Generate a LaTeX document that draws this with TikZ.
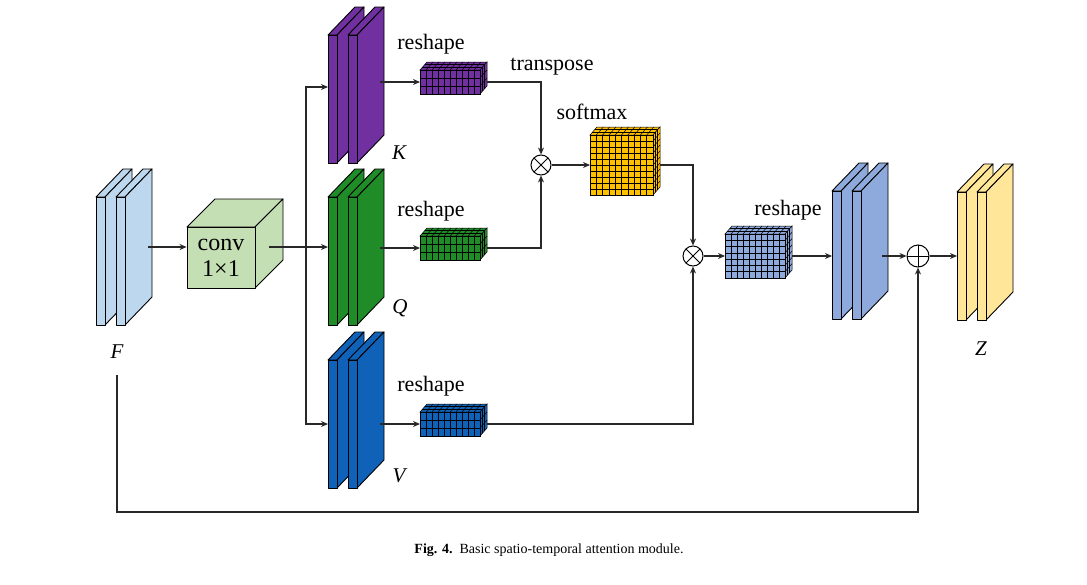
\documentclass[tikz,border=0pt]{standalone}
\usepackage{fontspec}
\setmainfont{Liberation Serif}
\usetikzlibrary{arrows.meta,calc}
\definecolor{fblue}{HTML}{BDD7EE}
\definecolor{kpurple}{HTML}{7030A0}
\definecolor{qgreen}{RGB}{32,140,40}
\definecolor{vblue}{RGB}{16,98,184}
\definecolor{oblue}{HTML}{8EA9DB}
\definecolor{zyellow}{HTML}{FFE699}
\definecolor{convg}{HTML}{C5DFB4}
\definecolor{smyellow}{HTML}{FFC000}
\definecolor{linec}{RGB}{40,40,40}
\tikzset{
  conn/.style={line width=1.2pt, draw=linec},
  arr/.style={conn, -{Stealth[length=7pt,width=6pt]}},
  face/.style={draw=black, line width=0.9pt, line join=round},
  gridl/.style={draw=black, line width=0.5pt},
  lbl/.style={font=\fontsize{22}{24}\selectfont, inner sep=0},
  ital/.style={font=\fontsize{21}{23}\selectfont\itshape, inner sep=0},
  opnode/.style={circle, draw=black, line width=1pt, minimum size=20pt, inner sep=0, fill=white},
  otimesnode/.style={opnode, path picture={
     \draw[line width=1pt] (path picture bounding box.north west) -- (path picture bounding box.south east);
     \draw[line width=1pt] (path picture bounding box.north east) -- (path picture bounding box.south west);}},
  oplusnode/.style={opnode, minimum size=22pt, path picture={
     \draw[line width=1pt] (path picture bounding box.north) -- (path picture bounding box.south);
     \draw[line width=1pt] (path picture bounding box.east) -- (path picture bounding box.west);}},
}
% two thin slabs: name, x of first front face, y top, colour
\newcommand{\slabpair}[4]{%
  \foreach \s/\o in {a/0,b/20}{%
    \pgfmathsetmacro\slx{#2+\o}%
    \filldraw[face, fill=#4] (\slx,#3) -- ++(27,-28) -- ++(9,0) -- ++(-27,28) -- cycle;
    \filldraw[face, fill=#4] (\slx+9,#3) -- ++(27,-28) -- ++(0,128) -- ++(-27,28) -- cycle;
    \node[face, fill=#4, minimum width=9, minimum height=128, inner sep=0, outer sep=0, anchor=north west] (#1\s) at (\slx,#3) {};
  }%
}
% grid block: name, cx, cy, w, h, cols, rows, colour
\newcommand{\tensorblk}[8]{%
  \pgfmathsetmacro\tbx{#2-#4/2}%
  \pgfmathsetmacro\tby{#3-#5/2}%
  \pgfmathsetmacro\tbcw{#4/#6}%
  \pgfmathsetmacro\tbrh{#5/#7}%
  \pgfmathtruncatemacro\tbnc{#6-1}%
  \pgfmathtruncatemacro\tbnr{#7-1}%
  \filldraw[gridl, fill=#8] (\tbx,\tby) -- ++(7,-8) -- ++(#4,0) -- ++(-7,8) -- cycle;
  \filldraw[gridl, fill=#8] (\tbx+#4,\tby) -- ++(7,-8) -- ++(0,#5) -- ++(-7,8) -- cycle;
  \foreach \i in {1,...,\tbnc}{\draw[gridl] (\tbx+\i*\tbcw,\tby) -- ++(7,-8);}
  \foreach \k in {1,2}{\draw[gridl] (\tbx+\k*7/3,\tby-\k*8/3) -- ++(#4,0);}
  \foreach \j in {1,...,\tbnr}{\draw[gridl] (\tbx+#4,\tby+\j*\tbrh) -- ++(7,-8);}
  \foreach \k in {1,2}{\draw[gridl] (\tbx+#4+\k*7/3,\tby-\k*8/3) -- ++(0,#5);}
  \node[draw=black, line width=0.7pt, fill=#8, minimum width=#4, minimum height=#5, inner sep=0, outer sep=0] (#1) at (#2,#3) {};
  \foreach \i in {1,...,\tbnc}{\draw[gridl] (\tbx+\i*\tbcw,\tby) -- ++(0,#5);}
  \foreach \j in {1,...,\tbnr}{\draw[gridl] (\tbx,\tby+\j*\tbrh) -- ++(#4,0);}
}
\begin{document}
\begin{tikzpicture}[x=1pt,y=-1pt]
\useasboundingbox[fill=white] (0,0) rectangle (1087,584);

% feature maps
\slabpair{F}{96}{197}{fblue}
\slabpair{K}{328}{35}{kpurple}
\slabpair{Q}{328}{197}{qgreen}
\slabpair{V}{328}{360}{vblue}
\slabpair{O}{832}{191}{oblue}
\slabpair{Z}{957}{192}{zyellow}

% conv cube
\filldraw[face, fill=convg] (187,227) -- ++(28,-28) -- ++(68,0) -- ++(-28,28) -- cycle;
\filldraw[face, fill=convg] (255,227) -- ++(28,-28) -- ++(0,61) -- ++(-28,28) -- cycle;
\node[face, fill=convg, minimum width=68, minimum height=61, inner sep=0, align=center,
      font=\fontsize{24}{26}\selectfont] (conv) at (221,257.5) {conv\\1×1};

% reshaped tensors
\tensorblk{Kt}{450}{82}{60}{24}{10}{3}{kpurple}
\tensorblk{Qt}{450}{248}{60}{24}{10}{3}{qgreen}
\tensorblk{Vt}{450}{424}{60}{24}{10}{3}{vblue}
\tensorblk{St}{621.5}{165}{63}{60}{10}{10}{smyellow}
\tensorblk{Ot}{755}{256}{60}{44}{10}{7}{oblue}

% operators
\node[otimesnode] (ot1) at (541,165) {};
\node[otimesnode] (ot2) at (693,256) {};
\node[oplusnode] (op) at (918,256) {};

% connectors
\coordinate (Fout) at (148,247);
\draw[arr] (Fout) -- (Fout -| conv.west);
\coordinate (cout) at (269,247);
\coordinate (br) at (306,247);
\draw[conn] (cout) -- (br);
\draw[arr] (br) -- (br -| Qa.west);
\draw[arr] (br) |- ([yshift=12pt]Ka.west);
\draw[arr] (br) |- (Va.west);
\draw[arr] ([xshift=23pt]Kb.east |- Kt.west) -- (Kt.west);
\draw[arr] ([xshift=23pt]Qb.east |- Qt.west) -- (Qt.west);
\draw[arr] ([xshift=23pt]Vb.east |- Vt.west) -- (Vt.west);
\draw[arr] ([xshift=7pt]Kt.east) -| (ot1.north);
\draw[arr] ([xshift=7pt]Qt.east) -| (ot1.south);
\draw[arr] (ot1.east) -- (ot1.east -| St.west);
\draw[arr] ([xshift=7pt]St.east) -| (ot2.north);
\draw[arr] ([xshift=7pt]Vt.east) -| (ot2.south);
\draw[arr] (ot2.east) -- (ot2.east -| Ot.west);
\draw[arr] ([xshift=7pt]Ot.east) -- (Ot.east -| Oa.west);
\draw[arr] ([xshift=21pt]Ob.east |- op.west) -- (op.west);
\draw[arr] (op.east) -- (op.east -| Za.west);
\coordinate (Fbot) at (117,375);
\draw[arr] (Fbot) -- ++(0,137) -| (op.south);

% labels
\node[lbl] (l1) at (431,44) {reshape};
\node[lbl] (l2) at (431,211) {reshape};
\node[lbl] (l3) at (431,386) {reshape};
\node[lbl] (l4) at (788,210) {reshape};
\node[lbl] (l5) at (552,67) {transpose};
\node[lbl] (l6) at (592,112) {softmax};
\node[ital] (lK) at (399,153) {K};
\node[ital] (lQ) at (400,308) {Q};
\node[ital] (lV) at (399,476) {V};
\node[ital] (lF) at (117,352) {F};
\node[ital] (lZ) at (981,349) {Z};
\node[font=\fontsize{14}{16}\selectfont, inner sep=0] (cap) at (549,550) {\textbf{Fig. 4.}\ \ Basic spatio-temporal attention module.};
\end{tikzpicture}
\end{document}
